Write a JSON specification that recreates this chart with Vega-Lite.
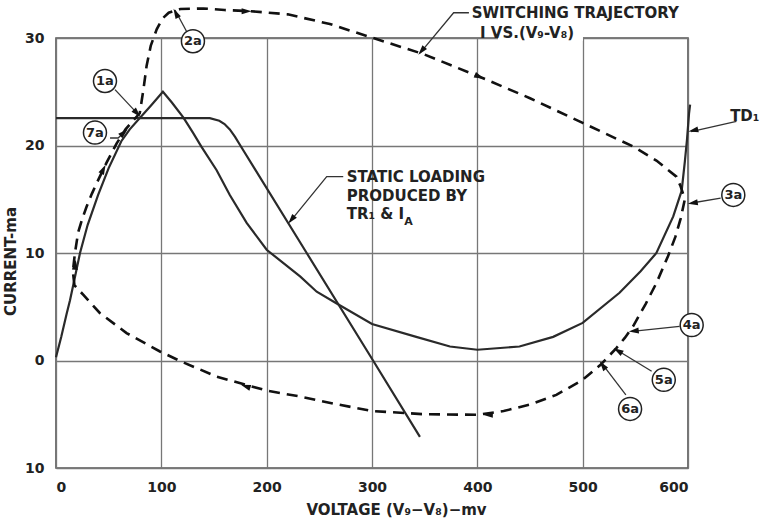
{
  "$schema": "https://vega.github.io/schema/vega-lite/v6.json",
  "width": 632,
  "height": 430,
  "autosize": {"type": "none"},
  "padding": {"left": 56, "top": 38, "right": 73, "bottom": 58},
  "background": "white",
  "config": {
    "view": {"stroke": "#555555", "strokeWidth": 1.6},
    "font": "DejaVu Sans",
    "axis": {
      "labelFont": "DejaVu Sans",
      "labelFontWeight": "bold",
      "labelFontSize": 14,
      "labelColor": "#222222",
      "titleFont": "DejaVu Sans",
      "titleFontWeight": "bold",
      "titleFontSize": 15,
      "titleColor": "#222222",
      "grid": true,
      "gridColor": "#777777",
      "gridWidth": 1.3,
      "domain": false,
      "ticks": false
    }
  },
  "datasets": {
    "static": [
      {"v": 0, "i": 0.3}, {"v": 5, "i": 2.2}, {"v": 10, "i": 4.3}, {"v": 13.3, "i": 5.6},
      {"v": 17, "i": 7.3}, {"v": 22.8, "i": 10}, {"v": 30, "i": 12.6}, {"v": 40, "i": 15.4},
      {"v": 50, "i": 17.9}, {"v": 62, "i": 20.4}, {"v": 70, "i": 21.5}, {"v": 80, "i": 22.6},
      {"v": 90, "i": 23.7}, {"v": 101.5, "i": 25}, {"v": 110, "i": 24}, {"v": 121, "i": 22.6},
      {"v": 130, "i": 21.2}, {"v": 138, "i": 19.9}, {"v": 152.5, "i": 17.7}, {"v": 165, "i": 15.4},
      {"v": 181, "i": 12.8}, {"v": 200, "i": 10.3}, {"v": 232, "i": 7.8}, {"v": 247.5, "i": 6.4},
      {"v": 266.5, "i": 5.3}, {"v": 300, "i": 3.4}, {"v": 342, "i": 2.2}, {"v": 374, "i": 1.3},
      {"v": 400, "i": 1.0}, {"v": 440, "i": 1.3}, {"v": 472, "i": 2.2}, {"v": 500, "i": 3.5},
      {"v": 535, "i": 6.3}, {"v": 555, "i": 8.3}, {"v": 570, "i": 10}, {"v": 586, "i": 13.4},
      {"v": 594, "i": 15.8}, {"v": 597, "i": 18.5}, {"v": 599, "i": 20.5}, {"v": 601, "i": 23},
      {"v": 602, "i": 23.8}
    ],
    "load": [
      {"v": 0, "i": 22.55}, {"v": 146, "i": 22.55}, {"v": 155, "i": 22.3}, {"v": 160, "i": 22.0},
      {"v": 165, "i": 21.5}, {"v": 170, "i": 20.8}, {"v": 175, "i": 20.0}, {"v": 238, "i": 10.0},
      {"v": 301, "i": 0}, {"v": 345.5, "i": -7.1}
    ],
    "trajectory": [
      {"v": 17.5, "i": 7.0}, {"v": 16, "i": 8.3}, {"v": 18, "i": 10}, {"v": 21, "i": 11.9},
      {"v": 25, "i": 13.2}, {"v": 29, "i": 14.3}, {"v": 34, "i": 15.5}, {"v": 38.6, "i": 16.5},
      {"v": 48, "i": 18.4}, {"v": 57.6, "i": 20.2}, {"v": 66, "i": 21.5}, {"v": 73, "i": 22.3},
      {"v": 79.5, "i": 23.0}, {"v": 83, "i": 25.2}, {"v": 86, "i": 27.4}, {"v": 90, "i": 29.3},
      {"v": 95.6, "i": 30.8}, {"v": 101, "i": 31.8}, {"v": 107, "i": 32.35}, {"v": 118, "i": 32.7},
      {"v": 140, "i": 32.75}, {"v": 160, "i": 32.6}, {"v": 184, "i": 32.5}, {"v": 220, "i": 32.2},
      {"v": 260, "i": 31.3}, {"v": 301, "i": 30.0}, {"v": 349, "i": 28.5}, {"v": 402, "i": 26.4},
      {"v": 450, "i": 24.4}, {"v": 500, "i": 22.1}, {"v": 548, "i": 19.9}, {"v": 570, "i": 18.6},
      {"v": 589, "i": 17.1}, {"v": 593, "i": 16.2}, {"v": 597, "i": 15.0}, {"v": 593, "i": 13.2},
      {"v": 588, "i": 11.5}, {"v": 581, "i": 9.7}, {"v": 570, "i": 7.2}, {"v": 560, "i": 5.3},
      {"v": 548, "i": 3.2}, {"v": 540, "i": 2.1}, {"v": 532, "i": 1.15}, {"v": 517, "i": -0.4},
      {"v": 500, "i": -1.8}, {"v": 475, "i": -3.2}, {"v": 450, "i": -4.1}, {"v": 425, "i": -4.7},
      {"v": 400, "i": -5.05}, {"v": 350, "i": -5.0}, {"v": 300, "i": -4.7}, {"v": 263, "i": -4.0},
      {"v": 231.6, "i": -3.35}, {"v": 200, "i": -2.8}, {"v": 152.6, "i": -1.5}, {"v": 119, "i": -0.1},
      {"v": 98.7, "i": 0.84}, {"v": 67, "i": 2.55}, {"v": 41.8, "i": 4.4}, {"v": 26, "i": 6.1},
      {"v": 17.5, "i": 7.0}
    ],
    "leaders": [
      {"id": "1a", "v": 56, "i": 25.2}, {"id": "1a", "v": 78, "i": 22.9},
      {"id": "2a", "v": 124, "i": 30.6}, {"id": "2a", "v": 113, "i": 32.6},
      {"id": "7a", "v": 51.3, "i": 20.7}, {"id": "7a", "v": 59, "i": 20.7}, {"id": "7a", "v": 65.5, "i": 21.3},
      {"id": "3a", "v": 631, "i": 15.1}, {"id": "3a", "v": 603.5, "i": 14.65},
      {"id": "4a", "v": 592, "i": 3.17}, {"id": "4a", "v": 547, "i": 2.7},
      {"id": "5a", "v": 565.5, "i": -1.0}, {"id": "5a", "v": 532, "i": 1.0},
      {"id": "6a", "v": 541, "i": -3.2}, {"id": "6a", "v": 518, "i": -0.25},
      {"id": "TD", "v": 646, "i": 22.25}, {"id": "TD", "v": 603, "i": 21.3},
      {"id": "SW", "v": 392, "i": 32.35}, {"id": "SW", "v": 377.5, "i": 32.35}, {"id": "SW", "v": 345.6, "i": 28.6},
      {"id": "ST", "v": 272.7, "i": 17.1}, {"id": "ST", "v": 257, "i": 17.1}, {"id": "ST", "v": 222, "i": 12.9}
    ],
    "arrows": [
      {"v": 77, "i": 23.0, "dir": 47}, {"v": 113.8, "i": 32.3, "dir": 242}, {"v": 64.5, "i": 21.2, "dir": 317},
      {"v": 604.5, "i": 14.65, "dir": 171}, {"v": 548.5, "i": 2.75, "dir": 174}, {"v": 533.5, "i": 0.9, "dir": 211},
      {"v": 519, "i": -0.45, "dir": 233}, {"v": 605, "i": 21.4, "dir": 167}, {"v": 347, "i": 28.8, "dir": 130},
      {"v": 223.5, "i": 13.1, "dir": 129},
      {"v": 181, "i": 32.5, "dir": 0}, {"v": 402, "i": 26.4, "dir": 23}, {"v": 180, "i": -2.4, "dir": 199},
      {"v": 410, "i": -5.05, "dir": 181}, {"v": 18.3, "i": 8.9, "dir": 275}, {"v": 45, "i": 17.8, "dir": 296}
    ],
    "circles": [
      {"v": 46.5, "i": 26.0, "lab": "1a"}, {"v": 130, "i": 29.7, "lab": "2a"},
      {"v": 643, "i": 15.4, "lab": "3a"}, {"v": 603.5, "i": 3.3, "lab": "4a"},
      {"v": 577, "i": -1.8, "lab": "5a"}, {"v": 545, "i": -4.5, "lab": "6a"},
      {"v": 37, "i": 21.2, "lab": "7a"}
    ],
    "notes": [
      {"v": 394.7, "i": 32.3, "txt": "SWITCHING TRAJECTORY"},
      {"v": 402.5, "i": 30.5, "txt": "I VS.(V₉-V₈)"},
      {"v": 276, "i": 17.1, "txt": "STATIC LOADING"},
      {"v": 276, "i": 15.3, "txt": "PRODUCED BY"},
      {"v": 276, "i": 13.6, "txt": "TR₁ & I"},
      {"v": 640, "i": 22.7, "txt": "TD₁"}
    ],
    "subs": [
      {"v": 330.5, "i": 12.9, "txt": "A"}
    ],
    "gaps": [
      {"v": 419.6, "v2": 500.3}
    ]
  },
  "layer": [
    {
      "data": {"name": "static"},
      "mark": {"type": "line", "stroke": "#2a2a2a", "strokeWidth": 2.2},
      "encoding": {
        "x": {
          "field": "v", "type": "quantitative",
          "scale": {"domain": [0, 600], "nice": false, "zero": false},
          "axis": {
            "values": [0, 100, 200, 300, 400, 500, 600],
            "labelPadding": 12,
            "title": "VOLTAGE (V₉−V₈)−mv",
            "titlePadding": 8,
            "titleX": 340
          }
        },
        "y": {
          "field": "i", "type": "quantitative",
          "scale": {"domain": [-10, 30], "nice": false, "zero": false},
          "axis": {
            "values": [-10, 0, 10, 20, 30],
            "labelExpr": "abs(datum.value)",
            "labelPadding": 12,
            "title": "CURRENT-ma",
            "titlePadding": 6,
            "titleY": 223
          }
        },
        "order": {"value": null}
      }
    },
    {
      "data": {"name": "load"},
      "mark": {"type": "line", "stroke": "#2a2a2a", "strokeWidth": 2.2},
      "encoding": {
        "x": {"field": "v", "type": "quantitative"},
        "y": {"field": "i", "type": "quantitative"},
        "order": {"value": null}
      }
    },
    {
      "data": {"name": "gaps"},
      "mark": {"type": "rect", "fill": "white"},
      "encoding": {
        "x": {"field": "v", "type": "quantitative"},
        "x2": {"field": "v2"},
        "y": {"datum": 29.75},
        "y2": {"datum": 30.25}
      }
    },
    {
      "data": {"name": "trajectory"},
      "mark": {"type": "line", "stroke": "#111111", "strokeWidth": 2.6, "strokeDash": [11, 7]},
      "encoding": {
        "x": {"field": "v", "type": "quantitative"},
        "y": {"field": "i", "type": "quantitative"},
        "order": {"value": null}
      }
    },
    {
      "data": {"name": "leaders"},
      "mark": {"type": "line", "stroke": "#333333", "strokeWidth": 1.3},
      "encoding": {
        "x": {"field": "v", "type": "quantitative"},
        "y": {"field": "i", "type": "quantitative"},
        "detail": {"field": "id"},
        "order": {"value": null}
      }
    },
    {
      "data": {"name": "arrows"},
      "mark": {"type": "point", "shape": "M1,0L-1,-0.6L-1,0.6Z", "filled": true, "size": 100, "color": "#111111", "opacity": 1},
      "encoding": {
        "x": {"field": "v", "type": "quantitative"},
        "y": {"field": "i", "type": "quantitative"},
        "angle": {"field": "dir", "type": "quantitative", "scale": null}
      }
    },
    {
      "data": {"name": "circles"},
      "mark": {"type": "point", "shape": "circle", "filled": true, "fill": "white", "stroke": "#222222", "strokeWidth": 1.5, "size": 529, "opacity": 1},
      "encoding": {
        "x": {"field": "v", "type": "quantitative"},
        "y": {"field": "i", "type": "quantitative"}
      }
    },
    {
      "data": {"name": "circles"},
      "mark": {"type": "text", "font": "DejaVu Sans", "fontWeight": "bold", "fontSize": 13, "color": "#222222", "baseline": "middle", "align": "center"},
      "encoding": {
        "x": {"field": "v", "type": "quantitative"},
        "y": {"field": "i", "type": "quantitative"},
        "text": {"field": "lab"}
      }
    },
    {
      "data": {"name": "notes"},
      "mark": {"type": "text", "font": "DejaVu Sans", "fontWeight": "bold", "fontSize": 15, "color": "#222222", "baseline": "middle", "align": "left"},
      "encoding": {
        "x": {"field": "v", "type": "quantitative"},
        "y": {"field": "i", "type": "quantitative"},
        "text": {"field": "txt"}
      }
    },
    {
      "data": {"name": "subs"},
      "mark": {"type": "text", "font": "DejaVu Sans", "fontWeight": "bold", "fontSize": 11, "color": "#222222", "baseline": "middle", "align": "left"},
      "encoding": {
        "x": {"field": "v", "type": "quantitative"},
        "y": {"field": "i", "type": "quantitative"},
        "text": {"field": "txt"}
      }
    }
  ]
}
